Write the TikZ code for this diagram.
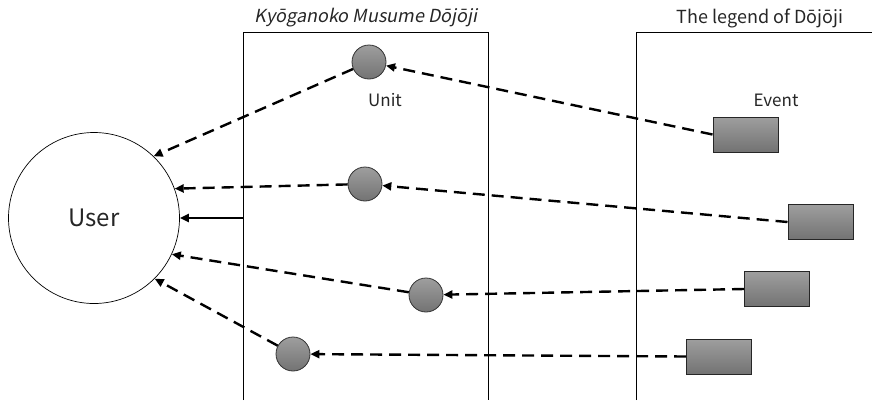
\documentclass[tikz,border=0pt]{standalone}
\usepackage{fontspec}
\setmainfont{Noto Sans CJK JP}
\newfontfamily\slfont[FakeSlant=0.2]{Noto Sans CJK JP}
\usetikzlibrary{arrows.meta}
\tikzset{
  unit/.style={circle, draw=black!80, line width=0.8pt, minimum size=34pt, inner sep=0pt, top color=black!38, bottom color=black!55},
  event/.style={rectangle, draw=black!85, line width=1pt, minimum width=65pt, minimum height=35pt, inner sep=0pt, top color=black!38, bottom color=black!55},
  flow/.style={line width=2.4pt, dash pattern=on 12pt off 7pt, -{Triangle[length=9pt,width=8pt]}, shorten >=0pt},
  panel/.style={line width=0.9pt},
  lbl/.style={inner sep=0pt, text=black!85, font=\fontsize{17}{20}\selectfont},
  ttl/.style={inner sep=0pt, text=black!85, font=\fontsize{18}{21}\selectfont}
}
\begin{document}
\begin{tikzpicture}[x=1pt,y=-1pt]
\useasboundingbox (0,0) rectangle (872,400);
% panels
\draw[panel] (243,400) -- (243,32) -- (488,32) -- (488,400);
\draw[panel] (636,400) -- (636,32) -- (872,32);
\node[ttl] (t1) at (366,18) {\slfont Ky\=oganoko Musume D\=oj\=oji};
\node[ttl] (t2) at (760,18) {The legend of D\=oj\=oji};
% user
\node[circle, draw, line width=0.7pt, minimum size=171pt, inner sep=0pt, text=black!85, font=\fontsize{24}{27}\selectfont] (user) at (94,218) {User};
% units
\node[unit] (c1) at (369,62) {};
\node[unit] (c2) at (365,184) {};
\node[unit] (c3) at (426,295) {};
\node[unit] (c4) at (293,354) {};
\node[lbl] (lu) at (385,100) {Unit};
% events
\node[event] (e1) at (745.5,134.5) {};
\node[event] (e2) at (820.5,222) {};
\node[event] (e3) at (777,289) {};
\node[event] (e4) at (719,356.5) {};
\node[lbl] (le) at (776,100) {Event};
% arrows event -> unit
\draw[flow] (e1.west) -- (c1);
\draw[flow] (e2.west) -- (c2);
\draw[flow] (e3.west) -- (c3);
\draw[flow] (e4.west) -- (c4);
% arrows unit -> user
\draw[flow] (c1) -- (user.46);
\draw[flow] (c2) -- (user.20);
\draw[flow] (c3) -- (user.-25);
\draw[flow] (c4) -- (user.-45);
% solid arrow
\coordinate (p) at (243,218);
\draw[line width=2.4pt, -{Triangle[length=9pt,width=8pt]}] (p) -- (user.east);
\end{tikzpicture}
\end{document}
